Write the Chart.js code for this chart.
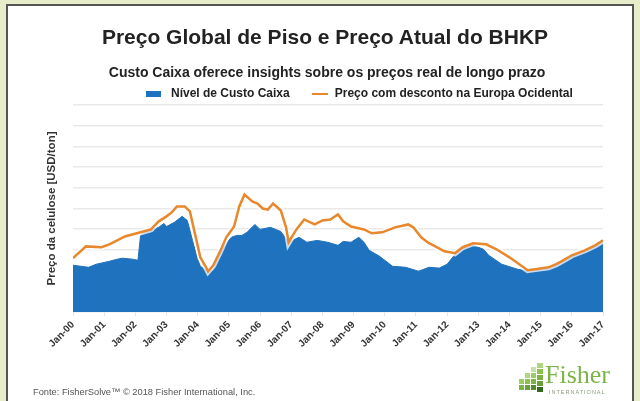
<!DOCTYPE html>
<html>
<head>
<meta charset="utf-8">
<script src="https://cdn.jsdelivr.net/npm/chart.js@4.4.1/dist/chart.umd.min.js"></script>
<style>
  html, body { margin:0; padding:0; width:640px; height:401px; overflow:hidden; background:#e7ecca; font-family:"Liberation Sans", Arial, sans-serif; }
  #panel { position:absolute; left:6px; top:4px; width:624px; height:420px; border:2px solid #555; background:#fff; }
  #chartWrap { position:absolute; left:0; top:0; width:640px; height:401px; }
  .txt { position:absolute; white-space:nowrap; color:#222; }
  #title { left:0; width:650px; text-align:center; top:25px; font-size:21px; font-weight:bold; }
  #subtitle { left:0; width:654px; text-align:center; top:64px; font-size:14px; font-weight:bold; }
  #legend { left:146px; top:86px; font-size:12px; font-weight:bold; }
  .sw { display:inline-block; vertical-align:middle; }
  #footer { left:33px; top:387px; font-size:9.3px; color:#555; }
  #logoText { left:545px; top:360px; font-family:"Liberation Serif", "DejaVu Serif", serif; font-size:26px; color:#7ab547; }
  #logoSub { left:549px; top:389px; font-size:5.5px; letter-spacing:1px; color:#8b9a80; }
  .sq { position:absolute; }
</style>
</head>
<body>
<div id="panel"></div>
<div id="chartWrap"><canvas id="c" width="640" height="401"></canvas></div>
<div class="txt" id="title">Preço Global de Piso e Preço Atual do BHKP</div>
<div class="txt" id="subtitle">Custo Caixa oferece insights sobre os preços real de longo prazo</div>
<div class="txt" id="legend"><span class="sw" style="width:15px;height:6px;background:#1f72bd;margin-right:10px"></span>Nível de Custo Caixa<span class="sw" style="width:16px;height:2.5px;background:#e8872c;margin:0 7px 0 22px"></span>Preço com desconto na Europa Ocidental</div>
<div class="txt" id="footer">Fonte: FisherSolve™ © 2018 Fisher International, Inc.</div>
<div id="logoIcon"></div>
<div class="txt" id="logoText">Fisher</div>
<div class="txt" id="logoSub">INTERNATIONAL</div>
<script>
// ---- Data (months since Jan-2000) ----
const tickLabels = ["Jan-00","Jan-01","Jan-02","Jan-03","Jan-04","Jan-05","Jan-06","Jan-07","Jan-08","Jan-09","Jan-10","Jan-11","Jan-12","Jan-13","Jan-14","Jan-15","Jan-16","Jan-17"];
const seriesNames = ["Nível de Custo Caixa", "Preço com desconto na Europa Ocidental"];
const cashMonths = [0,6,9,14,17,19,23,25,26,28,33,35,36,39,42,44,46,48,49,52,54,55,57,59,61,63,65,67,70,72,76,80,83,87,90,94,98,102,104,107,110,112,114,118,123,128,133,137,141,144,149,154,158,160,165,171,176,178,183,186,188,192,197,201,204];
const cashValues = [426,416,431,445,455,460,455,450,570,589,609,628,613,633,662,642,546,455,421,397,402,436,493,532,561,570,570,585,623,599,609,589,537,561,537,546,537,522,541,537,561,537,498,469,421,416,397,416,412,431,508,522,503,474,431,407,397,402,412,431,445,474,498,522,546];
const priceMonths = [0,5,11,14,20,26,30,33,36,38,40,43,45,47,49,51,52,54,57,59,62,64,66,69,71,73,75,77,80,82,83,86,89,93,96,99,102,104,107,112,115,119,124,129,131,134,137,138,143,147,150,154,159,163,168,175,178,183,186,188,192,197,201,204];
const priceValues = [460,517,513,527,565,585,599,638,662,681,710,710,686,575,464,421,397,426,503,561,613,710,767,734,724,700,695,724,690,609,537,599,647,623,642,647,671,638,613,599,580,585,609,623,609,561,532,527,493,484,513,532,527,503,464,402,407,416,431,445,474,498,522,546];

const toXY = (ms, vs) => ms.map((m, i) => ({x: m, y: vs[i]}));

// logo blocks (decoration)
(function(){
  const icon = document.getElementById('logoIcon');
  const blocks = [[519,379,5,5,'#9ccc65'],[519,385,5,5,'#7cb342'],[525,373,5,5,'#aed581'],[525,379,5,5,'#8bc34a'],[525,385,5,5,'#689f38'],
    [531,367,5,5,'#c5e1a5'],[531,373,5,5,'#9ccc65'],[531,379,5,5,'#7cb342'],[531,385,5,5,'#558b2f'],
    [537,363,6,5,'#aed581'],[537,369,6,5,'#8bc34a'],[537,375,6,5,'#7cb342'],[537,381,6,5,'#689f38'],[537,387,6,5,'#33691e']];
  blocks.forEach(b => { const d = document.createElement('div'); d.className='sq';
    d.style.left=b[0]+'px'; d.style.top=b[1]+'px'; d.style.width=b[2]+'px'; d.style.height=b[3]+'px'; d.style.background=b[4]; icon.appendChild(d); });
})();

new Chart(document.getElementById('c'), {
  type: 'line',
  data: {
    datasets: [
      { label: seriesNames[1], data: toXY(priceMonths, priceValues), borderColor: '#e8872c', borderWidth: 2.5, pointRadius: 0, fill: false, tension: 0, order: 0 },
      { label: 'halo', data: toXY(priceMonths, priceValues), borderColor: 'rgba(255,255,255,0.75)', borderWidth: 6, pointRadius: 0, fill: false, tension: 0, order: 1 },
      { label: seriesNames[0], data: toXY(cashMonths, cashValues), borderColor: '#1f72bd', backgroundColor: '#1f72bd', borderWidth: 1, pointRadius: 0, fill: 'start', tension: 0, order: 2 }
    ]
  },
  options: {
    responsive: false,
    animation: false,
    layout: { padding: { left: 40, right: 37, top: 105, bottom: 29 } },
    plugins: { legend: { display: false }, tooltip: { enabled: false } },
    scales: {
      x: {
        type: 'linear', min: 0, max: 204,
        afterBuildTicks: (s) => { s.ticks = tickLabels.map((t, i) => ({ value: i * 12 })); },
        afterFit: (s) => { s.height = 60; },
        ticks: { autoSkip: false, minRotation: 45, maxRotation: 45, padding: 3,
          font: { family: 'Liberation Sans', size: 10, weight: 'bold' }, color: '#333',
          callback: (v) => tickLabels[Math.round(v / 12)] },
        grid: { drawOnChartArea: false, tickLength: 4, color: '#e3e3e3' },
        border: { display: false }
      },
      y: {
        min: 200, max: 1200,
        afterFit: (s) => { s.width = 33; },
        ticks: { display: false, stepSize: 100 },
        grid: { color: '#e9e9e9', lineWidth: 1.5, drawTicks: false },
        border: { display: false },
        title: { display: true, text: 'Preço da celulose [USD/ton]', color: '#333',
          font: { family: 'Liberation Sans', size: 11.5, weight: 'bold' }, padding: { top: 5, bottom: 0 } }
      }
    }
  }
});
</script>
</body>
</html>
